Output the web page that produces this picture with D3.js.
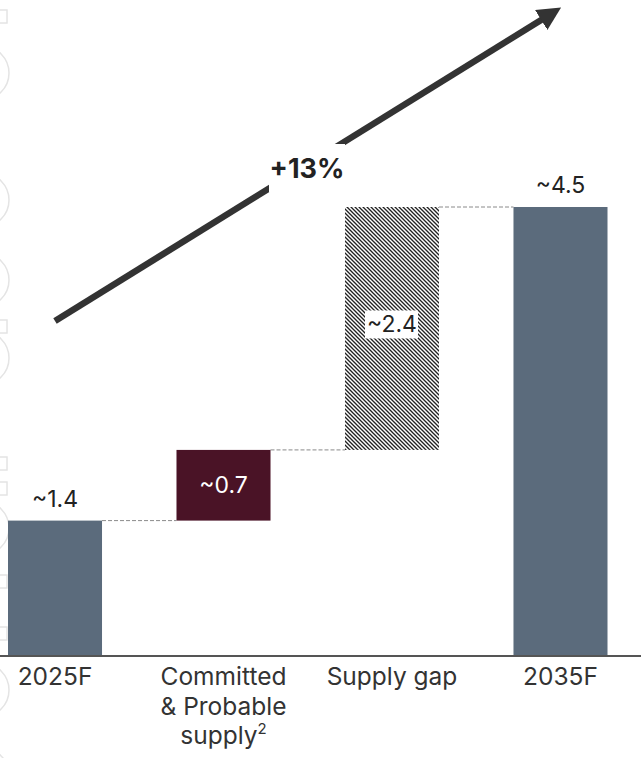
<!DOCTYPE html>
<html>
<head>
<meta charset="utf-8">
<script src="https://cdn.jsdelivr.net/npm/d3@7"></script>
<style>
  body { margin: 0; background: #fff; }
  svg { display: block; font-family: Inter, "Noto Sans", sans-serif; }
</style>
</head>
<body>
<svg id="chart" width="641" height="758"></svg>
<script>
// waterfall data (labels as printed)
const categories = ['2025F', 'Committed', 'Supply gap', '2035F'];
const labelLines = [['2025F'], ['Committed', '& Probable', 'supply'], ['Supply gap'], ['2035F']];
const values = [1.35, 0.71, 2.44, 4.5];
const kinds = ['total', 'step', 'gap', 'total'];
const valueLabels = ['~1.4', '~0.7', '~2.4', '~4.5'];
const growthLabel = '+13%';

const width = 641, height = 758;
const svg = d3.select('#chart');

const x = d3.scaleBand()
    .domain(categories)
    .range([8, 607.5])
    .paddingInner(0.442)
    .paddingOuter(0);

const y = d3.scaleLinear()
    .domain([0, 4.5])
    .range([655, 207]);

// running totals for the floating bars
let run = 0;
const bars = categories.map((c, i) => {
    let y0, y1;
    if (kinds[i] === 'total') { y0 = 0; y1 = values[i]; run = values[i]; }
    else { y0 = run; y1 = run + values[i]; run = y1; }
    return { cat: c, y0: y0, y1: y1, kind: kinds[i], label: valueLabels[i], lines: labelLines[i] };
});

const colors = { total: '#5b6b7c', step: '#4a1326', gap: 'url(#hatch)' };

// hatch pattern
const defs = svg.append('defs');
const pat = defs.append('pattern')
    .attr('id', 'hatch')
    .attr('patternUnits', 'userSpaceOnUse')
    .attr('width', 4)
    .attr('height', 4);
pat.append('rect').attr('width', 4).attr('height', 4).attr('fill', '#fff');
pat.append('path')
    .attr('d', 'M0,0 L4,4 M-1,3 L1,5 M3,-1 L5,1')
    .attr('stroke', '#222')
    .attr('stroke-width', 1.35);

// faint background decoration on left edge
const decoCircles = [73, 200, 280, 358, 528, 690, 775];
const decoSquares = [10, 320, 457, 482, 575, 627];
svg.selectAll('.deco-c')
    .data(decoCircles)
    .enter()
    .append('circle')
    .attr('cx', -18)
    .attr('cy', d => d)
    .attr('r', 27)
    .attr('fill', 'none')
    .attr('stroke', '#e4e4e4')
    .attr('stroke-width', 1.5);
svg.selectAll('.deco-s')
    .data(decoSquares)
    .enter()
    .append('rect')
    .attr('x', -6)
    .attr('y', d => d)
    .attr('width', 13)
    .attr('height', 13)
    .attr('fill', 'none')
    .attr('stroke', '#e4e4e4')
    .attr('stroke-width', 1.5);

// connectors
svg.selectAll('.conn')
    .data(bars.slice(0, -1))
    .enter()
    .append('line')
    .attr('x1', d => x(d.cat) + x.bandwidth())
    .attr('x2', (d, i) => x(categories[i + 1]))
    .attr('y1', d => y(d.y1))
    .attr('y2', d => y(d.y1))
    .attr('stroke', '#8a8a8a')
    .attr('stroke-width', 1)
    .attr('stroke-dasharray', '4,2');

// bars
svg.selectAll('.bar')
    .data(bars)
    .enter()
    .append('rect')
    .attr('x', d => x(d.cat))
    .attr('width', x.bandwidth())
    .attr('y', d => y(d.y1))
    .attr('height', d => y(d.y0) - y(d.y1))
    .attr('fill', d => colors[d.kind]);

// value labels
bars.forEach(d => {
    const cx = x(d.cat) + x.bandwidth() / 2;
    if (d.kind === 'total') {
        svg.append('text')
            .attr('x', cx)
            .attr('y', y(d.y1) - 14)
            .attr('text-anchor', 'middle')
            .attr('font-size', 23)
            .attr('fill', '#222')
            .text(d.label);
    } else if (d.kind === 'step') {
        svg.append('text')
            .attr('x', cx)
            .attr('y', (y(d.y0) + y(d.y1)) / 2 + 8)
            .attr('text-anchor', 'middle')
            .attr('font-size', 23)
            .attr('fill', '#fff')
            .text(d.label);
    } else {
        const cy = (y(d.y0) + y(d.y1)) / 2 - 4;
        svg.append('rect')
            .attr('x', cx - 27)
            .attr('y', cy - 14)
            .attr('width', 53)
            .attr('height', 28)
            .attr('fill', '#fff');
        svg.append('text')
            .attr('x', cx)
            .attr('y', cy + 8)
            .attr('text-anchor', 'middle')
            .attr('font-size', 23)
            .attr('fill', '#222')
            .text(d.label);
    }
});

// axis baseline
svg.append('line')
    .attr('x1', 0).attr('x2', width)
    .attr('y1', y(0) + 1).attr('y2', y(0) + 1)
    .attr('stroke', '#555')
    .attr('stroke-width', 2);

// category labels
const catText = svg.selectAll('.cat')
    .data(bars)
    .enter()
    .append('text')
    .attr('text-anchor', 'middle')
    .attr('font-size', 24.5)
    .attr('fill', '#333');
catText.each(function (d) {
    const t = d3.select(this);
    const cx = x(d.cat) + x.bandwidth() / 2;
    d.lines.forEach((ln, j) => {
        t.append('tspan')
            .attr('x', cx)
            .attr('y', 685 + j * 29.5)
            .text(ln);
        if (d.cat === 'Committed' && j === 2) {
            t.append('tspan')
                .attr('dy', -10)
                .attr('font-size', 15)
                .text('2');
        }
    });
});

// growth arrow
const a0 = [x(categories[0]) + x.bandwidth() / 2, 321];
const a1 = [x(categories[3]) + x.bandwidth() / 2, 8];
defs.append('marker')
    .attr('id', 'head')
    .attr('viewBox', '0 0 10 10')
    .attr('refX', 2)
    .attr('refY', 5)
    .attr('markerWidth', 3.6)
    .attr('markerHeight', 3.6)
    .attr('orient', 'auto')
    .append('path')
    .attr('d', 'M0,0 L10,5 L0,10 Z')
    .attr('fill', '#333');

const ang = Math.atan2(a1[1] - a0[1], a1[0] - a0[0]);
const headLen = 18;
svg.append('line')
    .attr('x1', a0[0]).attr('y1', a0[1])
    .attr('x2', a1[0] - headLen * Math.cos(ang)).attr('y2', a1[1] - headLen * Math.sin(ang))
    .attr('stroke', '#333')
    .attr('stroke-width', 6.5)
    .attr('marker-end', 'url(#head)');

// label gap on arrow
const gx = 307, gy = 168;
svg.append('rect')
    .attr('x', gx - 38).attr('y', gy - 24)
    .attr('width', 76).attr('height', 48)
    .attr('fill', '#fff');
svg.append('text')
    .attr('x', gx)
    .attr('y', gy + 10)
    .attr('text-anchor', 'middle')
    .attr('font-size', 27)
    .attr('font-weight', 'bold')
    .attr('fill', '#222')
    .text(growthLabel);
</script>
</body>
</html>
